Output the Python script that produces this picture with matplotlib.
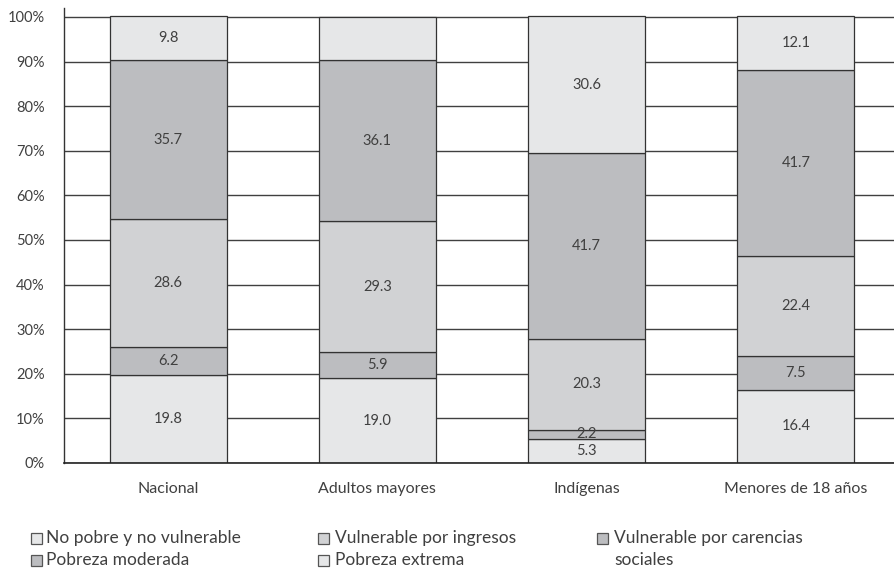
import matplotlib
matplotlib.use("Agg")
import matplotlib.pyplot as plt
from matplotlib.patches import Rectangle

plt.rcParams['font.family'] = ['Lato', 'DejaVu Sans']

categories = ["Nacional", "Adultos mayores", "Indígenas", "Menores de 18 años"]

# stacked segments, bottom to top
no_pobre = [19.8, 19.0, 5.3, 16.4]
vuln_ingresos = [6.2, 5.9, 2.2, 7.5]
vuln_carencias = [28.6, 29.3, 20.3, 22.4]
pobreza_moderada = [35.7, 36.1, 41.7, 41.7]
pobreza_extrema = [9.8, 9.7, 30.6, 12.1]
extrema_labels = ["9.8", None, "30.6", "12.1"]

yticks = [0, 10, 20, 30, 40, 50, 60, 70, 80, 90, 100]

LIGHT = "#e6e7e8"
MID = "#d1d2d4"
DARK = "#bcbdc0"
EDGE = "#333333"
TXT = "#404040"

series = [
    (no_pobre, LIGHT, [f"{v:.1f}" for v in no_pobre]),
    (vuln_ingresos, DARK, [f"{v:.1f}" for v in vuln_ingresos]),
    (vuln_carencias, MID, [f"{v:.1f}" for v in vuln_carencias]),
    (pobreza_moderada, DARK, [f"{v:.1f}" for v in pobreza_moderada]),
    (pobreza_extrema, LIGHT, extrema_labels),
]

fig = plt.figure(figsize=(8.95, 5.72), dpi=100)
ax = fig.add_axes([64 / 895, 109 / 572, 1 - 64 / 895, (463 - 8) / 572])

x = list(range(len(categories)))
bottoms = [0.0] * len(categories)
for values, color, labels in series:
    bars = ax.bar(x, values, width=0.56, bottom=bottoms, color=color,
                  edgecolor=EDGE, linewidth=0.9, zorder=3)
    for rect, lab in zip(bars, labels):
        if lab is None:
            continue
        cy = rect.get_y() + rect.get_height() / 2
        ax.text(rect.get_x() + rect.get_width() / 2, cy, lab,
                ha="center", va="center", fontsize=10.5, color=TXT, zorder=4)
    bottoms = [b + v for b, v in zip(bottoms, values)]

ax.set_xlim(-0.498, 3.474)
ax.set_ylim(0, 102)
ax.set_yticks(yticks)
ax.set_yticklabels([f"{t}%" for t in yticks], fontsize=10.5, color=TXT)
ax.set_xticks(x)
ax.set_xticklabels(categories, fontsize=11.5, color=TXT)
ax.tick_params(axis="both", length=0)
ax.tick_params(axis="y", pad=14)
ax.tick_params(axis="x", pad=14)

ax.yaxis.grid(True, color="#404040", linewidth=1.0, zorder=0)
ax.set_axisbelow(True)
for side in ("top", "right"):
    ax.spines[side].set_visible(False)
ax.spines["left"].set_color("#333333")
ax.spines["left"].set_linewidth(1.0)
ax.spines["bottom"].set_color("#222222")
ax.spines["bottom"].set_linewidth(1.2)
ax.spines["bottom"].set_zorder(5)

# legend drawn as swatches and texts in figure pixels
legend_items = [
    (31, 533, 46, LIGHT, "No pobre y no vulnerable"),
    (31, 555, 46, DARK, "Pobreza moderada"),
    (318, 533, 335, MID, "Vulnerable por ingresos"),
    (318, 555, 335, LIGHT, "Pobreza extrema"),
    (597, 533, 614, DARK, "Vulnerable por carencias\nsociales"),
]
W, H = 895, 572
for px, py, tx, color, label in legend_items:
    fig.patches.append(Rectangle((px / W, 1 - (py + 11) / H), 11 / W, 11 / H,
                                 transform=fig.transFigure, facecolor=color,
                                 edgecolor="#555555", linewidth=0.9))
    fig.text(tx / W, 1 - (py - 3) / H, label, ha="left", va="top",
             fontsize=12.5, color=TXT, linespacing=1.45)

fig.savefig("out.png", dpi=100)
